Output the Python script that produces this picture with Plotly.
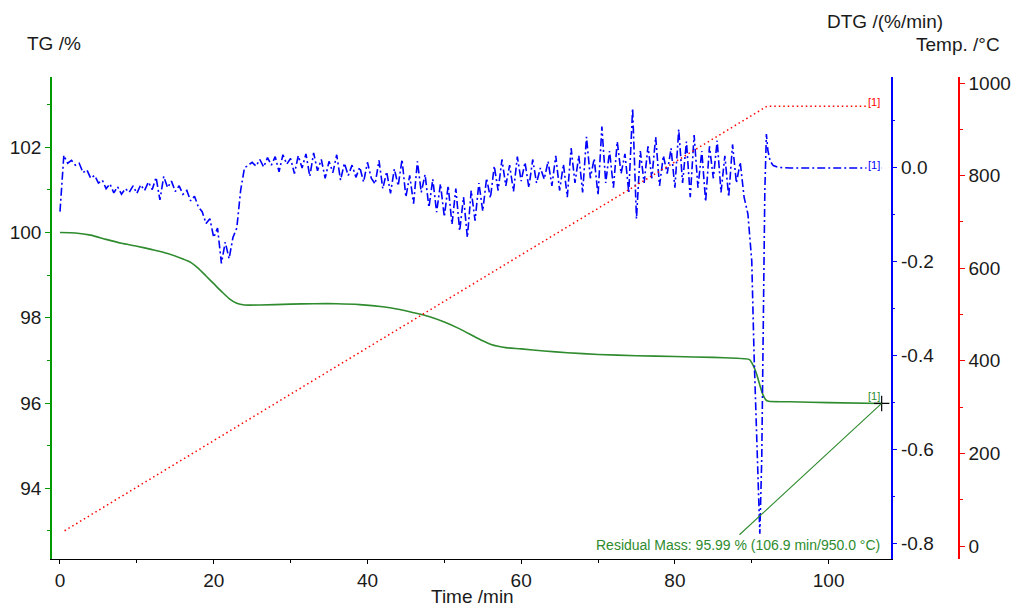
import numpy as np
import plotly.graph_objects as go

# ---------------- data ----------------
# TG (mass %) vs time (min)
tg_time = [0, 2, 4, 6, 8, 10, 12, 14, 16, 17, 18, 19, 20, 21, 22, 23, 24, 26, 30, 33, 36,
           39, 42, 44, 46, 48, 50, 52, 54, 55, 56, 57, 58, 60, 63, 66, 70, 75, 80, 85, 88,
           89, 89.7, 90.2, 90.6, 91.0, 91.4, 91.8, 92.2, 95, 100, 106.9]
tg_values = [100.00, 99.99, 99.94, 99.84, 99.75, 99.68, 99.60, 99.51, 99.38, 99.30, 99.16,
             98.98, 98.80, 98.62, 98.45, 98.34, 98.30, 98.30, 98.32, 98.33, 98.33, 98.31,
             98.26, 98.20, 98.12, 98.03, 97.90, 97.74, 97.55, 97.46, 97.38, 97.33, 97.30,
             97.27, 97.22, 97.18, 97.14, 97.11, 97.09, 97.07, 97.05, 97.04, 97.02, 96.88,
             96.70, 96.45, 96.22, 96.08, 96.04, 96.03, 96.01, 95.99]

# Temperature programme (°C)
temp_time = [0.6, 92.0, 106.9]
temp_values = [33, 950, 950]

# DTG (%/min): sampled every 0.5 min up to 89.5 min, then the final step
dtg_step_values = [
    -0.095, 0.025, 0.008, 0.014, 0.004, 0.008, -0.012, -0.006, -0.024, -0.018,   # 0
    -0.034, -0.028, -0.046, -0.036, -0.055, -0.042, -0.058, -0.046, -0.054, -0.040,  # 5
    -0.056, -0.038, -0.050, -0.032, -0.048, -0.022, -0.070, -0.020, -0.044, -0.030,  # 10
    -0.052, -0.040, -0.058, -0.050, -0.072, -0.062, -0.085, -0.095, -0.120, -0.110,  # 15
    -0.150, -0.130, -0.205, -0.160, -0.195, -0.150, -0.130, -0.050, -0.002, 0.004,   # 20
    0.010, 0.002, 0.016, 0.000, 0.020, 0.004, 0.022, -0.010, 0.026, 0.006,           # 25
    0.018, -0.014, 0.024, -0.002, 0.028, -0.020, 0.030, -0.008, 0.016, -0.024,       # 30
    0.012, -0.012, 0.026, -0.028, 0.008, -0.018, 0.004, -0.022, 0.000, -0.032,       # 35
    0.010, -0.024, -0.036, 0.014, -0.046, -0.010, -0.056, -0.004, -0.040, 0.016,     # 40
    -0.064, -0.018, -0.078, 0.012, -0.054, -0.016, -0.086, -0.026, -0.096, -0.036,   # 45
    -0.106, -0.040, -0.122, -0.046, -0.136, -0.064, -0.150, -0.050, -0.114, -0.034,  # 50
    -0.094, -0.024, -0.066, 0.002, -0.050, 0.016, -0.040, 0.004, -0.052, 0.022,      # 55
    -0.030, 0.010, -0.044, 0.016, -0.034, -0.002, -0.026, 0.012, -0.040, 0.024,      # 60
    -0.050, 0.006, -0.064, 0.040, -0.034, 0.024, -0.054, 0.064, -0.024, 0.018,       # 65
    -0.060, 0.086, -0.034, 0.034, -0.044, 0.054, -0.014, 0.028, -0.054, 0.125,       # 70
    -0.110, 0.034, -0.034, 0.044, -0.024, 0.064, -0.040, 0.024, -0.014, 0.040,       # 75
    -0.044, 0.080, -0.034, 0.054, -0.064, 0.068, -0.044, 0.034, -0.074, 0.044,       # 80
    -0.024, 0.056, -0.054, 0.024, -0.064, 0.048, -0.034, 0.010, -0.064, -0.100,      # 85
]
dtg_tail_time = [90.0, 90.3, 90.6, 90.9, 91.05, 91.3, 91.5, 91.7, 91.9, 92.1, 92.4, 92.8,
                 93.5, 95.0, 100.0, 106.9]
dtg_tail_values = [-0.200, -0.400, -0.550, -0.720, -0.780, -0.620, -0.350, -0.050, 0.070,
                   0.035, 0.012, 0.003, -0.001, -0.002, -0.002, -0.002]

dtg_time = list(np.arange(len(dtg_step_values)) * 0.5) + dtg_tail_time
dtg_values = dtg_step_values + dtg_tail_values

residual_time = 106.9
residual_mass = 95.99
residual_temp = 950.0

# ---------------- styling ----------------
FONT = "Liberation Sans, Arial, sans-serif"
TXT = "#1a1a1a"
GREEN_AX = "#009900"
GREEN_LN = "#2e8b2e"
BLUE = "#0000ff"
RED = "#ff0000"

W, H = 1014, 606
ML, MR, MT, MB = 52, 44, 77, 47
PW, PH = W - ML - MR, H - MT - MB


def px(xp, yp):
    """pixel position -> paper coordinates"""
    return (xp - ML) / PW, (H - MB - yp) / PH


fig = go.Figure()

fig.add_trace(go.Scatter(x=tg_time, y=tg_values, mode="lines", yaxis="y",
                         line=dict(color=GREEN_LN, width=1.6, shape="spline", smoothing=0.6),
                         hoverinfo="skip"))
fig.add_trace(go.Scatter(x=dtg_time, y=dtg_values, mode="lines", yaxis="y2",
                         line=dict(color=BLUE, width=1.6, dash="8px,3px,2px,3px"),
                         hoverinfo="skip"))
fig.add_trace(go.Scatter(x=temp_time, y=temp_values, mode="lines", yaxis="y3",
                         line=dict(color=RED, width=1.5, dash="1.5px,3px"),
                         hoverinfo="skip"))
# end-point cross on the TG curve
fig.add_trace(go.Scatter(x=[residual_time], y=[residual_mass], mode="markers", yaxis="y",
                         marker=dict(symbol="cross-thin", size=11,
                                     line=dict(color="#000000", width=1.2)),
                         hoverinfo="skip"))

tickfont = dict(family=FONT, size=19, color=TXT)
x_dom_end = (890.5 - ML) / PW

fig.update_layout(
    width=W, height=H, autosize=False,
    margin=dict(l=ML, r=MR, t=MT, b=MB, pad=0, autoexpand=False),
    paper_bgcolor="white", plot_bgcolor="white",
    showlegend=False,
    font=dict(family=FONT, color=TXT),
    xaxis=dict(domain=[0, x_dom_end], range=[-1.04, 108.05], automargin=False,
               tickmode="array", tickvals=[0, 20, 40, 60, 80, 100],
               showgrid=False, zeroline=False,
               showline=True, linecolor="#000000", linewidth=1,
               ticks="outside", ticklen=4, tickcolor="#000000",
               minor=dict(tickvals=[10, 30, 50, 70, 90], ticks="outside", ticklen=3,
                          tickcolor="#000000", showgrid=False),
               tickfont=tickfont),
    yaxis=dict(range=[92.34, 103.65], tickvals=[94, 96, 98, 100, 102], automargin=False,
               showgrid=False, zeroline=False,
               showline=True, linecolor=GREEN_AX, linewidth=1.5,
               ticks="outside", ticklen=5, tickcolor=GREEN_AX,
               minor=dict(tickvals=[93, 95, 97, 99, 101, 103], ticks="outside", ticklen=3,
                          tickcolor=GREEN_AX, showgrid=False),
               tickfont=tickfont),
    yaxis2=dict(range=[-0.834, 0.1915], overlaying="y", side="right", anchor="x",
                automargin=False,
                tickvals=[-0.8, -0.6, -0.4, -0.2, 0.0], ticktext=["-0.8", "-0.6", "-0.4", "-0.2", "0.0"],
                showgrid=False, zeroline=False,
                showline=True, linecolor=BLUE, linewidth=1.5,
                ticks="outside", ticklen=5, tickcolor=BLUE,
                minor=dict(tickvals=[-0.7, -0.5, -0.3, -0.1, 0.1], ticks="outside", ticklen=3,
                           tickcolor=BLUE, showgrid=False),
                tickfont=tickfont),
    yaxis3=dict(range=[-28, 1013], overlaying="y", side="right", anchor="free",
                position=(959 - ML) / PW, automargin=False, autoshift=False,
                tickvals=[0, 200, 400, 600, 800, 1000],
                showgrid=False, zeroline=False,
                showline=True, linecolor=RED, linewidth=1.5,
                ticks="outside", ticklen=5, tickcolor=RED,
                minor=dict(tickvals=[100, 300, 500, 700, 900], ticks="outside", ticklen=3,
                           tickcolor=RED, showgrid=False),
                tickfont=tickfont),
)

ann = []
# axis titles
for text, xp, yp, xa in [("TG /%", 25, 43.5, "left"),
                         ("DTG /(%/min)", 945, 21.5, "right"),
                         ("Temp. /°C", 1002, 44, "right"),
                         ("Time /min", 472, 596, "center")]:
    x, y = px(xp, yp)
    ann.append(dict(text=text, x=x, y=y, xref="paper", yref="paper", xanchor=xa,
                    yanchor="middle", showarrow=False,
                    font=dict(family=FONT, size=19, color=TXT)))

# curve labels at the ends
lbl = dict(family=FONT, size=11)
ann.append(dict(text="[1]", x=temp_time[-1], y=temp_values[-1], xref="x", yref="y3",
                xanchor="right", yanchor="middle", yshift=4, showarrow=False,
                bgcolor="white", borderpad=1, font=dict(lbl, color=RED)))
ann.append(dict(text="[1]", x=dtg_time[-1], y=dtg_values[-1], xref="x", yref="y2",
                xanchor="right", yanchor="middle", yshift=3, showarrow=False,
                bgcolor="white", borderpad=1, font=dict(lbl, color=BLUE)))
ann.append(dict(text="[1]", x=tg_time[-1], y=tg_values[-1], xref="x", yref="y",
                xanchor="right", yanchor="bottom", yshift=-1, showarrow=False,
                font=dict(lbl, color=GREEN_LN)))

# residual mass leader line and text
ann.append(dict(text="", x=residual_time, y=residual_mass, xref="x", yref="y",
                ax=738 - 881.7, ay=536 - 403.3, axref="pixel", ayref="pixel",
                showarrow=True, arrowhead=0, arrowwidth=1.1, arrowcolor=GREEN_LN))
tx, ty = px(882, 545)
ann.append(dict(text=f"Residual Mass: {residual_mass:.2f} % ({residual_time:.1f} min/{residual_temp:.1f} °C)",
                x=tx, y=ty, xref="paper", yref="paper", xanchor="right", yanchor="middle",
                showarrow=False, font=dict(family=FONT, size=14, color=GREEN_LN)))

fig.update_layout(annotations=ann)

fig.write_html("out.html")
